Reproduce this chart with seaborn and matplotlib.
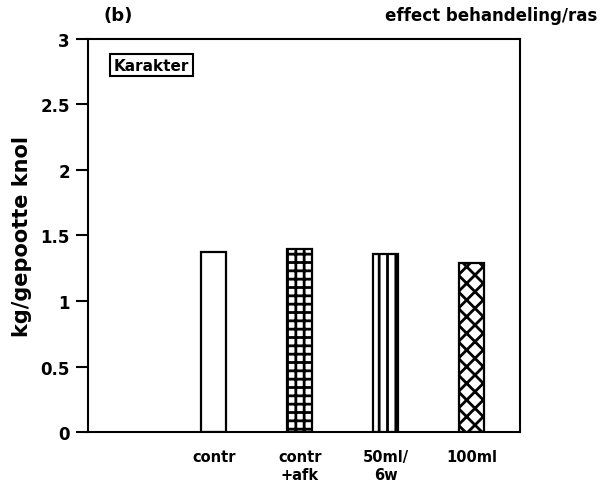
import matplotlib
matplotlib.use("Agg")
import matplotlib.pyplot as plt
import seaborn as sns
import pandas as pd

categories = ["contr", "contr\n+afk", "50ml/\n6w", "100ml"]
values = [1.37, 1.40, 1.36, 1.29]
hatches = ["", "++", "||", "xx"]
yticks = [0, 0.5, 1, 1.5, 2, 2.5, 3]
ytick_labels = ["0", "0.5", "1", "1.5", "2", "2.5", "3"]

sns.set_theme(style="ticks")
plt.rcParams["font.family"] = ["DejaVu Sans"]
plt.rcParams["hatch.linewidth"] = 2.0
plt.rcParams["hatch.color"] = "black"
plt.rcParams["text.color"] = "black"
plt.rcParams["axes.labelcolor"] = "black"
plt.rcParams["xtick.color"] = "black"
plt.rcParams["ytick.color"] = "black"

df = pd.DataFrame({"cat": categories, "val": values})

fig = plt.figure(figsize=(6.03, 4.85), dpi=100)
ax = fig.add_axes([0.146, 0.107, 0.716, 0.811])

sns.barplot(data=df, x="cat", y="val", order=categories, color="white",
            edgecolor="black", linewidth=1.6, width=0.29, ax=ax, errorbar=None)
for p, h in zip(ax.patches, hatches):
    p.set_hatch(h)
    p.set_facecolor("white")
    p.set_edgecolor("black")

ax.set_xlim(-1.465, 3.56)
ax.set_ylim(0, 3)
ax.set_yticks(yticks)
ax.set_yticklabels(ytick_labels, fontsize=12, fontweight="bold")
ax.set_xticks(range(len(categories)))
ax.set_xticklabels(categories, fontsize=10.5, fontweight="bold", linespacing=1.3)
ax.tick_params(axis="x", length=0, pad=12)
ax.tick_params(axis="y", length=9, width=1.5, direction="out", pad=4)
for s in ax.spines.values():
    s.set_visible(True)
    s.set_linewidth(1.5)
    s.set_color("black")

ax.set_xlabel("")
ax.set_ylabel("kg/gepootte knol", fontsize=15, fontweight="bold", labelpad=6)

fig.text(0.172, 0.968, "(b)", fontsize=13, fontweight="bold", ha="left", va="center")
fig.text(0.99, 0.968, "effect behandeling/ras", fontsize=12, fontweight="bold",
         ha="right", va="center")
ax.text(0.06, 0.952, "Karakter", transform=ax.transAxes, fontsize=11, fontweight="bold",
        ha="left", va="top",
        bbox=dict(boxstyle="square,pad=0.25", facecolor="white", edgecolor="black", linewidth=1.5))

fig.savefig("out.png", dpi=100)
